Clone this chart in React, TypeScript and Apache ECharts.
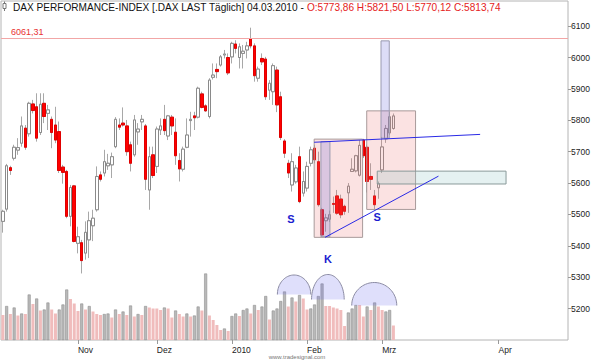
import React, { useEffect, useRef } from "react";
import * as echarts from "echarts";

// ---- price data (daily candles, 05.10.2009 .. 04.03.2010) ----
const opens = [
  5478, 5517, 5649, 5679, 5705, 5727, 5775, 5757, 5852, 5843,
  5761, 5854, 5822, 5803, 5785, 5764, 5651, 5637, 5494, 5591,
  5408, 5410, 5377, 5419, 5464, 5515, 5626, 5632, 5655, 5658,
  5716, 5785, 5791, 5782, 5722, 5690, 5763, 5795, 5782, 5578,
  5690, 5653, 5769, 5803, 5750, 5810, 5762, 5672, 5644, 5714,
  5799, 5814, 5810, 5884, 5846, 5812, 5937, 5962, 5976, 6008,
  6000, 6002, 6043, 6000, 6013, 6024, 6059, 6037, 5934, 5997,
  5995, 5896, 5891, 5960, 5875, 5734, 5663, 5594, 5604, 5684,
  5568, 5584, 5663, 5711, 5668, 5515, 5480, 5485, 5535, 5559,
  5549, 5526, 5569, 5637, 5639, 5625, 5737, 5714, 5621, 5559,
  5585, 5642, 5741, 5760, 5773.86,
];
const highs = [
  5515, 5661, 5655, 5722, 5743, 5812, 5785, 5859, 5865, 5886,
  5886, 5886, 5849, 5812, 5843, 5796, 5658, 5642, 5594, 5594,
  5461, 5419, 5478, 5509, 5515, 5653, 5637, 5706, 5693, 5697,
  5810, 5806, 5841, 5801, 5732, 5817, 5791, 5817, 5788, 5716,
  5716, 5780, 5806, 5849, 5817, 5817, 5806, 5695, 5716, 5806,
  5827, 5827, 5907, 5891, 5851, 5934, 5981, 5981, 6008, 6024,
  6013, 6050, 6055, 6045, 6040, 6050, 6095, 6045, 5971, 6013,
  6002, 5928, 5981, 5971, 5891, 5740, 5674, 5695, 5658, 5716,
  5637, 5668, 5716, 5722, 5700, 5521, 5502, 5512, 5557, 5578,
  5563, 5531, 5600, 5679, 5690, 5737, 5741, 5722, 5663, 5578,
  5605, 5747, 5785, 5827, 5821.5,
];
const lows = [
  5442, 5509, 5626, 5672, 5690, 5716, 5706, 5748, 5822, 5732,
  5753, 5791, 5769, 5711, 5727, 5632, 5598, 5488, 5462, 5411,
  5376, 5312, 5356, 5361, 5415, 5509, 5605, 5621, 5642, 5616,
  5711, 5769, 5780, 5687, 5637, 5684, 5722, 5769, 5578, 5515,
  5616, 5632, 5753, 5753, 5737, 5753, 5658, 5605, 5637, 5711,
  5748, 5769, 5806, 5838, 5827, 5806, 5930, 5934, 5971, 5997,
  5944, 5981, 6013, 5965, 5965, 5997, 6029, 5923, 5923, 5976,
  5865, 5865, 5849, 5826, 5737, 5680, 5616, 5573, 5598, 5536,
  5557, 5573, 5653, 5663, 5525, 5430, 5445, 5476, 5505, 5499,
  5488, 5499, 5505, 5636, 5634, 5621, 5680, 5570, 5578, 5515,
  5550, 5632, 5728, 5753, 5770.12,
];
const closes = [
  5510, 5655, 5640, 5714, 5713, 5782, 5714, 5854, 5831, 5743,
  5851, 5812, 5833, 5761, 5737, 5640, 5634, 5494, 5586, 5414,
  5429, 5353, 5443, 5480, 5488, 5621, 5612, 5668, 5663, 5684,
  5803, 5778, 5785, 5700, 5663, 5801, 5772, 5803, 5612, 5684,
  5624, 5772, 5782, 5767, 5814, 5782, 5687, 5645, 5708, 5753,
  5803, 5808, 5902, 5841, 5830, 5928, 5944, 5955, 6002, 6011,
  5951, 6045, 6029, 6034, 6020, 6037, 6037, 5942, 5963, 5986,
  5875, 5918, 5974, 5849, 5745, 5695, 5632, 5668, 5648, 5541,
  5605, 5653, 5706, 5674, 5531, 5435, 5489, 5499, 5532, 5504,
  5499, 5510, 5590, 5644, 5687, 5720, 5687, 5605, 5612, 5531,
  5598, 5715, 5774, 5811, 5813.74,
];

// ---- volume ----
const volumes = [
  50, 68, 52, 65, 49, 53, 52, 91, 72, 83,
  59, 61, 75, 61, 53, 61, 71, 101, 82, 73,
  58, 73, 61, 68, 57, 52, 50, 52, 53, 45,
  61, 52, 57, 50, 69, 47, 52, 50, 68, 65,
  63, 63, 60, 65, 63, 45, 59, 52, 47, 53,
  47, 49, 67, 59, 133, 49, 40, 30, 20, 23,
  18, 48, 53, 48, 60, 63, 53, 70, 60, 67,
  88, 41, 59, 63, 78, 97, 67, 85, 77, 90,
  83, 61, 63, 71, 88, 113, 68, 68, 65, 63,
  60, 28, 55, 63, 70, 70, 47, 67, 60, 75,
  67, 60, 57, 60, 29,
];
// 1 = grey bar, 0 = pink bar
const volumeUp = [
  0, 1, 0, 1, 0, 1, 0, 1, 0, 1,
  0, 1, 1, 0, 0, 1, 1, 1, 0, 0,
  0, 1, 0, 1, 0, 0, 0, 1, 1, 0,
  1, 0, 1, 0, 1, 0, 1, 0, 1, 0,
  0, 0, 0, 1, 0, 0, 1, 0, 0, 1,
  0, 1, 1, 0, 1, 0, 0, 0, 0, 1,
  0, 1, 1, 0, 1, 1, 0, 1, 0, 1,
  1, 0, 1, 1, 1, 1, 0, 1, 0, 1,
  0, 0, 1, 1, 1, 1, 0, 0, 0, 0,
  0, 0, 1, 1, 1, 0, 0, 1, 0, 1,
  0, 0, 1, 1, 0,
];

// ---- axis ----
const priceMin = 5100;
const priceMax = 6180;
const priceStep = 100;
const holidays = ["2009-12-24", "2009-12-25", "2009-12-31", "2010-01-01"];
const monthNames: Record<string, string> = {
  "2009-11": "Nov",
  "2009-12": "Dez",
  "2010-01": "2010",
  "2010-02": "Feb",
  "2010-03": "Mrz",
  "2010-04": "Apr",
};
const highLine = 6061.31;

// ---- drawing-tool annotations (category index, price) ----
const pinkBoxes = [
  [82.9, 5427, 95.8, 5740],
  [96.9, 5516, 109.9, 5830],
];
const purpleBars = [
  [84.7, 5429, 87.1, 5732],
  [100.7, 5743, 102.9, 6053],
];
const zoneBoxes = [[99.7, 5597, 134.0, 5638]];
const trendLines = [
  [82.9, 5730, 127.1, 5755],
  [85.8, 5427, 116.0, 5622],
];
const markTexts = ["S", "K", "S"];
const markIdx = [76.7, 86.6, 99.7];
const markPrices = [5486, 5358, 5492];
// volume panel arcs: [left index, right index, base volume, top volume]
const volumeArcs = [
  [73.1, 82.0, 91, 130],
  [82.2, 90.9, 81, 131],
  [92.9, 104.9, 69, 115],
];

const FONT = '"Liberation Sans", Arial, sans-serif';

function buildDates(): string[] {
  const out: string[] = [];
  const d = new Date(Date.UTC(2009, 9, 5));
  while (out.length < opens.length) {
    const wd = d.getUTCDay();
    const s = d.toISOString().slice(0, 10);
    if (wd !== 0 && wd !== 6 && !holidays.includes(s)) out.push(s);
    d.setUTCDate(d.getUTCDate() + 1);
  }
  while (out.length < 151) {
    out.push(d.toISOString().slice(0, 10));
    d.setUTCDate(d.getUTCDate() + 1);
  }
  return out;
}

const toPx = (api: any, xi: number, price: number) => {
  const i0 = Math.floor(xi);
  const base = api.coord([i0, price]);
  const bw = api.size([1, 0])[0];
  return [base[0] + (xi - i0) * bw, base[1]];
};

const fmt = (v: number) => v.toFixed(2).replace(".", ",");

function buildOption() {
  const dates = buildDates();
  const isMonthStart = dates.map(
    (d, i) => i > 0 && d.slice(0, 7) !== dates[i - 1].slice(0, 7)
  );
  const n = opens.length;
  const full = opens.map((o, i) => [o, closes[i], lows[i], highs[i]]);
  const bodies = opens.map((o, i) => [
    o,
    closes[i],
    Math.min(o, closes[i]),
    Math.max(o, closes[i]),
  ]);
  const last = n - 1;
  const title =
    "DAX PERFORMANCE-INDEX [.DAX LAST Täglich] 04.03.2010 - " +
    `{r|O:${fmt(opens[last])} H:${fmt(highs[last])} L:${fmt(lows[last])} C:${fmt(closes[last])}}`;

  const boxSeries = (items: number[][], fill: string, stroke: string, z: number) => ({
    type: "custom",
    xAxisIndex: 0,
    yAxisIndex: 0,
    z,
    silent: true,
    data: items,
    renderItem: (params: any, api: any) => {
      const b = items[params.dataIndex];
      const a = toPx(api, b[0], b[3]);
      const c = toPx(api, b[2], b[1]);
      return {
        type: "rect",
        shape: { x: a[0], y: a[1], width: c[0] - a[0], height: c[1] - a[1] },
        style: { fill, stroke, lineWidth: 1 },
      };
    },
  });

  return {
    animation: false,
    backgroundColor: "#ffffff",
    grid: [
      {
        left: 1,
        top: 1,
        width: 567,
        height: 339,
        show: true,
        borderColor: "#b4b4b4",
        borderWidth: 1,
        backgroundColor: "transparent",
      },
      { left: 1, top: 260, width: 567, height: 80, show: false },
    ],
    xAxis: [
      {
        type: "category",
        gridIndex: 0,
        data: dates,
        boundaryGap: true,
        axisLine: { show: false },
        axisTick: {
          show: true,
          interval: (i: number) => isMonthStart[i],
          alignWithLabel: true,
          length: 4,
          lineStyle: { color: "#999" },
        },
        axisLabel: {
          interval: (i: number) => isMonthStart[i],
          formatter: (v: string) => monthNames[v.slice(0, 7)] || "",
          align: "left",
          margin: 5,
          fontSize: 8.5,
          fontFamily: FONT,
          color: "#222",
        },
        splitLine: { show: false },
      },
      { type: "category", gridIndex: 1, data: dates, boundaryGap: true, show: false },
    ],
    yAxis: [
      {
        type: "value",
        gridIndex: 0,
        position: "right",
        min: priceMin,
        max: priceMax,
        interval: priceStep,
        axisLine: { show: false },
        axisTick: { show: true, length: 3, lineStyle: { color: "#999" } },
        axisLabel: {
          margin: 3,
          fontSize: 8.5,
          fontFamily: FONT,
          color: "#222",
          showMinLabel: false,
          showMaxLabel: false,
          formatter: (v: number) => String(v),
        },
        splitLine: { show: false },
      },
      { type: "value", gridIndex: 1, min: 0, max: 160, show: false },
    ],
    graphic: [
      {
        type: "line",
        shape: { x1: 4.5, y1: 1.5, x2: 4.5, y2: 11 },
        style: { stroke: "#777", lineWidth: 1 },
        z: 10,
      },
      {
        type: "rect",
        shape: { x: 3, y: 3.5, width: 3, height: 5 },
        style: { fill: "#fff", stroke: "#777", lineWidth: 1 },
        z: 11,
      },
      {
        type: "text",
        x: 13,
        y: 7,
        z: 10,
        style: {
          text: title,
          font: `10.1px ${FONT}`,
          fill: "#111",
          verticalAlign: "middle",
          rich: { r: { fill: "#e52222", font: `10.1px ${FONT}` } },
        },
      },
      {
        type: "text",
        x: 297,
        y: 357,
        z: 10,
        style: {
          text: "www.tradesignal.com",
          font: `6px ${FONT}`,
          fill: "#777",
          align: "center",
          verticalAlign: "middle",
        },
      },
    ],
    series: [
      {
        type: "bar",
        name: "Volume",
        xAxisIndex: 1,
        yAxisIndex: 1,
        barWidth: 3,
        z: 1,
        silent: true,
        data: volumes.map((v, i) => ({
          value: v,
          itemStyle: volumeUp[i]
            ? { color: "#b9b9b9", borderColor: "#8e8e8e", borderWidth: 0.6 }
            : { color: "#f0bcbc" },
        })),
      },
      {
        type: "custom",
        xAxisIndex: 1,
        yAxisIndex: 1,
        z: 2,
        silent: true,
        data: volumeArcs,
        renderItem: (params: any, api: any) => {
          const a = volumeArcs[params.dataIndex];
          const pl = toPx(api, a[0], a[2]);
          const pr = toPx(api, a[1], a[2]);
          const pt = toPx(api, a[0], a[3]);
          const cx = (pl[0] + pr[0]) / 2;
          const rx = (pr[0] - pl[0]) / 2;
          const ry = pl[1] - pt[1];
          const yb = pl[1];
          const pts: number[][] = [];
          for (let j = 0; j <= 40; j++) {
            const t = (Math.PI * j) / 40;
            pts.push([cx - rx * Math.cos(t), yb - ry * Math.sin(t)]);
          }
          return {
            type: "group",
            children: [
              {
                type: "polygon",
                shape: { points: pts },
                style: { fill: "rgba(110,110,235,0.22)", stroke: "none" },
              },
              {
                type: "polyline",
                shape: { points: pts },
                style: { fill: "none", stroke: "#8c8ca4", lineWidth: 1 },
              },
            ],
          };
        },
      },
      {
        type: "candlestick",
        name: "wicks",
        xAxisIndex: 0,
        yAxisIndex: 0,
        barWidth: 3,
        z: 3,
        silent: true,
        data: full,
        itemStyle: {
          color: "#ffffff",
          color0: "#ffffff",
          borderColor: "#a8a8a8",
          borderColor0: "#a8a8a8",
          borderWidth: 1,
        },
      },
      {
        type: "candlestick",
        name: "DAX",
        xAxisIndex: 0,
        yAxisIndex: 0,
        barWidth: 3,
        z: 4,
        silent: true,
        data: bodies,
        itemStyle: {
          color: "#ffffff",
          color0: "#ff0000",
          borderColor: "#8a8a8a",
          borderColor0: "#e00000",
          borderWidth: 1,
        },
        markLine: {
          silent: true,
          symbol: "none",
          data: [{ yAxis: highLine }],
          lineStyle: { color: "#f2a6a6", type: "solid", width: 1 },
          label: {
            position: "insideStartTop",
            formatter: fmt(highLine),
            color: "#e83232",
            fontSize: 9,
            fontFamily: FONT,
            distance: [10, 2],
          },
        },
      },
      boxSeries(pinkBoxes, "rgba(235,110,110,0.2)", "#a89a9a", 5),
      boxSeries(purpleBars, "rgba(100,100,220,0.22)", "#9a9ab0", 6),
      boxSeries(zoneBoxes, "rgba(150,200,200,0.25)", "#8a9a9a", 6),
      {
        type: "custom",
        xAxisIndex: 0,
        yAxisIndex: 0,
        z: 7,
        silent: true,
        data: trendLines,
        renderItem: (params: any, api: any) => {
          const l = trendLines[params.dataIndex];
          const a = toPx(api, l[0], l[1]);
          const b = toPx(api, l[2], l[3]);
          return {
            type: "line",
            shape: { x1: a[0], y1: a[1], x2: b[0], y2: b[1] },
            style: { stroke: "#2a2ae6", lineWidth: 1 },
          };
        },
      },
      {
        type: "custom",
        xAxisIndex: 0,
        yAxisIndex: 0,
        z: 8,
        silent: true,
        data: markIdx.map((x, k) => [x, markPrices[k]]),
        renderItem: (params: any, api: any) => {
          const k = params.dataIndex;
          const p = toPx(api, markIdx[k], markPrices[k]);
          return {
            type: "text",
            x: p[0],
            y: p[1],
            style: {
              text: markTexts[k],
              fill: "#1c1ccf",
              font: `bold 11px ${FONT}`,
              align: "center",
              verticalAlign: "middle",
              textAlign: "center",
              textVerticalAlign: "middle",
            },
          };
        },
      },
    ],
  };
}

export default function App() {
  const ref = useRef<HTMLDivElement>(null);
  useEffect(() => {
    document.body.style.margin = "0";
    const chart = echarts.init(ref.current!, null, { renderer: "svg" });
    chart.setOption(buildOption() as any);
    return () => chart.dispose();
  }, []);
  return (
    <div
      ref={ref}
      style={{ position: "fixed", left: 0, top: 0, width: 595, height: 361, background: "#fff" }}
    />
  );
}
